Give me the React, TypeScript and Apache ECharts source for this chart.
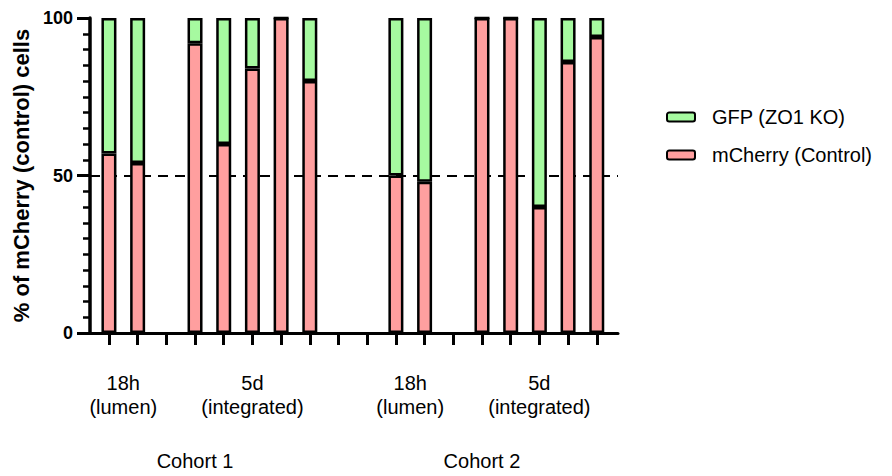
import React, { useEffect, useRef } from "react";
import * as echarts from "echarts";

// 18 slots along the x axis (empty slots are null)
const mCherry = [57, 54, null, 92, 60, 84, 100, 80, null, null, 50, 48, null, 100, 100, 40, 86, 94];
const gfp = [43, 46, null, 8, 40, 16, 0, 20, null, null, 50, 52, null, 0, 0, 60, 14, 6];
const slotTicks = [0, 1, 2, 3, 4, 5, 6, 7, 8, 9, 10, 11, 12, 13, 14, 15, 16, 17];
const groupLabels = ["18h\n(lumen)", "5d\n(integrated)", "18h\n(lumen)", "5d\n(integrated)"];
const groupLabelAt = [0.5, 5, 10.5, 15];
const cohortLabels = ["Cohort 1", "Cohort 2"];
const cohortLabelAt = [3, 13];
const yTicks = { min: 0, max: 100, interval: 50 };
const threshold = 50;

const FONT = "'Liberation Sans', Arial, sans-serif";

export default function App() {
  const ref = useRef<HTMLDivElement>(null);
  useEffect(() => {
    document.body.style.margin = "0";
    const chart = echarts.init(ref.current!, null, { renderer: "svg" });
    // value first so that stacking happens on the y dimension
    const toData = (arr: (number | null)[]) =>
      arr.map((v, i) => [v === null ? "-" : v, i]);
    const xCommon = { type: "value" as const, min: -0.66, max: 17.74 };
    const gridRect = { left: 90, right: 274, top: 18, bottom: 143 };
    chart.setOption({
      animation: false,
      textStyle: { fontFamily: FONT },
      grid: [{ ...gridRect }, { ...gridRect }],
      legend: {
        orient: "vertical",
        left: 666,
        top: 107,
        padding: 0,
        itemWidth: 28,
        itemHeight: 9,
        itemGap: 18,
        data: ["GFP (ZO1 KO)", "mCherry (Control)"],
        textStyle: { fontSize: 20, lineHeight: 20, color: "#000", fontFamily: FONT, padding: [0, 0, 0, 12] },
      },
      xAxis: [
        {
          ...xCommon,
          gridIndex: 0,
          position: "bottom",
          splitLine: { show: false },
          axisLine: { show: true, onZero: false, lineStyle: { color: "#000", width: 3 } },
          axisTick: { show: true, customValues: slotTicks, length: 12, lineStyle: { color: "#000", width: 3 } },
          axisLabel: {
            show: true,
            customValues: groupLabelAt,
            formatter: (v: number) => {
              const i = groupLabelAt.indexOf(v);
              return i >= 0 ? groupLabels[i] : "";
            },
            margin: 38,
            fontSize: 20,
            lineHeight: 24,
            color: "#000",
            fontFamily: FONT,
          },
        },
        {
          ...xCommon,
          gridIndex: 0,
          position: "bottom",
          offset: 0,
          splitLine: { show: false },
          axisLine: { show: false, onZero: false },
          axisTick: { show: false },
          axisLabel: {
            show: true,
            customValues: cohortLabelAt,
            formatter: (v: number) => {
              const i = cohortLabelAt.indexOf(v);
              return i >= 0 ? cohortLabels[i] : "";
            },
            margin: 116,
            fontSize: 20,
            lineHeight: 24,
            color: "#000",
            fontFamily: FONT,
          },
        },
        {
          ...xCommon,
          gridIndex: 1,
          show: false,
          position: "bottom",
          splitLine: { show: false },
          axisLine: { show: false, onZero: false },
          axisTick: { show: false },
          axisLabel: { show: false },
        },
      ],
      yAxis: [
        {
          type: "value",
          gridIndex: 0,
          min: yTicks.min,
          max: yTicks.max,
          interval: yTicks.interval,
          position: "left",
          splitLine: { show: false },
          axisLine: { show: false, onZero: false },
          axisTick: { show: false },
          axisLabel: { show: false },
        },
        {
          type: "value",
          gridIndex: 1,
          min: yTicks.min,
          max: yTicks.max,
          interval: yTicks.interval,
          position: "left",
          z: 10,
          name: "% of mCherry (control) cells",
          nameLocation: "middle",
          nameRotate: 90,
          nameGap: 56,
          nameTextStyle: { fontSize: 22, fontWeight: "bold", color: "#000", fontFamily: FONT },
          splitLine: { show: false },
          axisLine: { show: true, onZero: false, lineStyle: { color: "#000", width: 3.5 } },
          axisTick: { show: true, inside: false, length: 13, lineStyle: { color: "#000", width: 3 } },
          minorTick: { show: true, splitNumber: 10, length: 7, lineStyle: { color: "#000", width: 2.5 } },
          axisLabel: { show: true, fontSize: 18, fontWeight: "bold", color: "#000", margin: 17, fontFamily: FONT },
        },
      ],
      series: [
        {
          name: "mCherry (Control)",
          type: "bar",
          stack: "total",
          xAxisIndex: 0,
          yAxisIndex: 0,
          barWidth: 15,
          z: 3,
          encode: { x: 1, y: 0 },
          itemStyle: { color: "#FF9F9F", borderColor: "#000", borderWidth: 2.5 },
          data: toData(mCherry),
          markLine: {
            silent: true,
            symbol: "none",
            z: 1,
            label: { show: false },
            lineStyle: { color: "#000", width: 2, type: [10, 7] },
            data: [{ yAxis: threshold }],
          },
        },
        {
          name: "GFP (ZO1 KO)",
          type: "bar",
          stack: "total",
          xAxisIndex: 0,
          yAxisIndex: 0,
          barWidth: 15,
          z: 3,
          encode: { x: 1, y: 0 },
          itemStyle: { color: "#A6FAA0", borderColor: "#000", borderWidth: 2.5 },
          data: toData(gfp),
        },
      ],
    });
    return () => chart.dispose();
  }, []);
  return <div ref={ref} style={{ width: 892, height: 476 }} />;
}
